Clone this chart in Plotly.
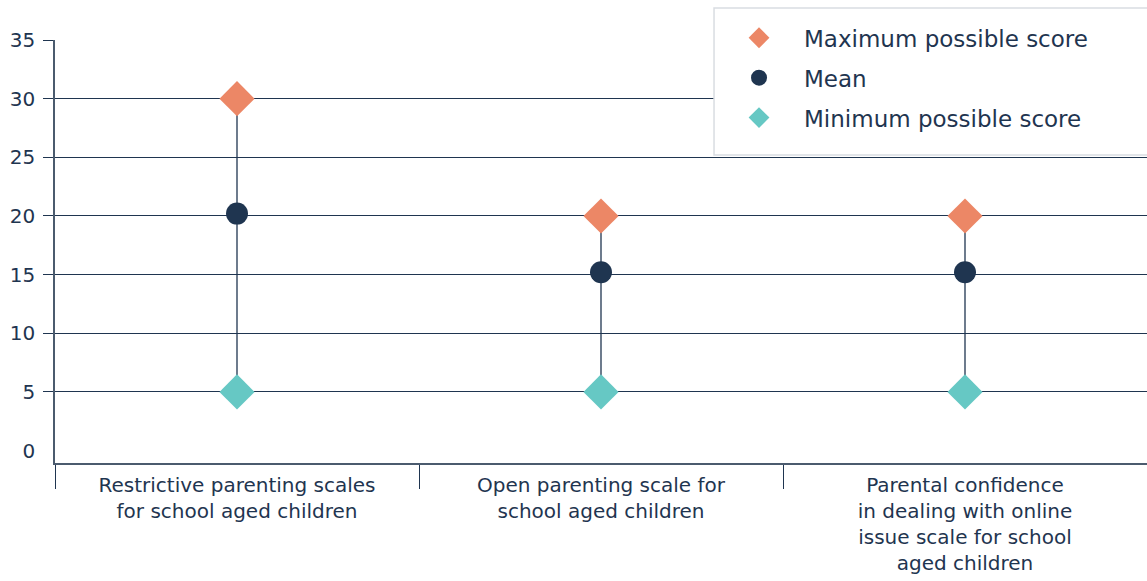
import plotly.graph_objects as go

categories = [
    "Restrictive parenting scales<br>for school aged children",
    "Open parenting scale for<br>school aged children",
    "Parental confidence<br>in dealing with online<br>issue scale for school<br>aged children",
]
max_scores = [30, 20, 20]
mean_scores = [20.2, 15.2, 15.2]
min_scores = [5, 5, 5]
y_ticks = [0, 5, 10, 15, 20, 25, 30, 35]
grid_vals = [5, 10, 15, 20, 25, 30, 35]
series_names = ["Maximum possible score", "Mean", "Minimum possible score"]

NAVY = "#1f3550"
ORANGE = "#ec8766"
TEAL = "#66c8c4"
FONT = "DejaVu Sans, sans-serif"

# connector lines from min to max
lx, ly = [], []
for c, lo, hi in zip(categories, min_scores, max_scores):
    lx += [c, c, None]
    ly += [lo, hi, None]

fig = go.Figure()
fig.add_trace(go.Scatter(x=lx, y=ly, mode="lines", line=dict(color=NAVY, width=1.3),
                         showlegend=False, hoverinfo="skip"))
fig.add_trace(go.Scatter(x=categories, y=max_scores, mode="markers", name=series_names[0],
                         legendgroup="a",
                         marker=dict(symbol="diamond", size=27, color=ORANGE)))
fig.add_trace(go.Scatter(x=categories, y=mean_scores, mode="markers", name=series_names[1],
                         legendgroup="b",
                         marker=dict(symbol="circle", size=22, color=NAVY)))
fig.add_trace(go.Scatter(x=categories, y=min_scores, mode="markers", name=series_names[2],
                         legendgroup="c",
                         marker=dict(symbol="diamond", size=27, color=TEAL)))

# legend frame (white box with light border, extends past right edge)
fig.add_shape(type="rect", xref="paper", yref="paper", x0=0.6035, x1=1.01, y0=0.728, y1=1.0757,
              line=dict(color="#d9dde2", width=1.5), fillcolor="white", layer="above")

fig.update_layout(
    width=1147, height=581,
    margin=dict(l=55, r=0, t=40, b=118, autoexpand=False),
    paper_bgcolor="white", plot_bgcolor="white",
    font=dict(family=FONT, size=20, color=NAVY),
    legend=dict(x=0.6035, y=1.056, xanchor="left", yanchor="top",
                borderwidth=0, bgcolor="rgba(0,0,0,0)",
                font=dict(size=23, color=NAVY), itemsizing="trace",
                tracegroupgap=7, itemwidth=80),
)
fig.update_xaxes(
    type="category", range=[-0.5, 2.5], tickson="boundaries", ticks="outside", ticklen=24,
    tickcolor=NAVY, tickwidth=1.3, showgrid=False, automargin=False,
    showline=True, linecolor="#4b5b6e", linewidth=2,
    tickfont=dict(size=20, color=NAVY), ticklabelstandoff=3,
)
fig.update_yaxes(
    range=[-1.06, 35], tickvals=y_ticks, ticktext=[str(v) for v in y_ticks],
    showgrid=False, zeroline=False, automargin=False,
    showline=True, linecolor="#4b5b6e", linewidth=1.5,
    ticks="", tickfont=dict(size=20, color=NAVY), ticklabelstandoff=14,
    minor=dict(tickvals=grid_vals, showgrid=True, gridcolor=NAVY, gridwidth=1.3,
               ticks="outside", ticklen=10, tickcolor=NAVY, tickwidth=1.3),
)
fig.write_html("out.html", config={"displayModeBar": False},
               post_script="document.body.style.margin='0';document.body.style.overflow='hidden';")
